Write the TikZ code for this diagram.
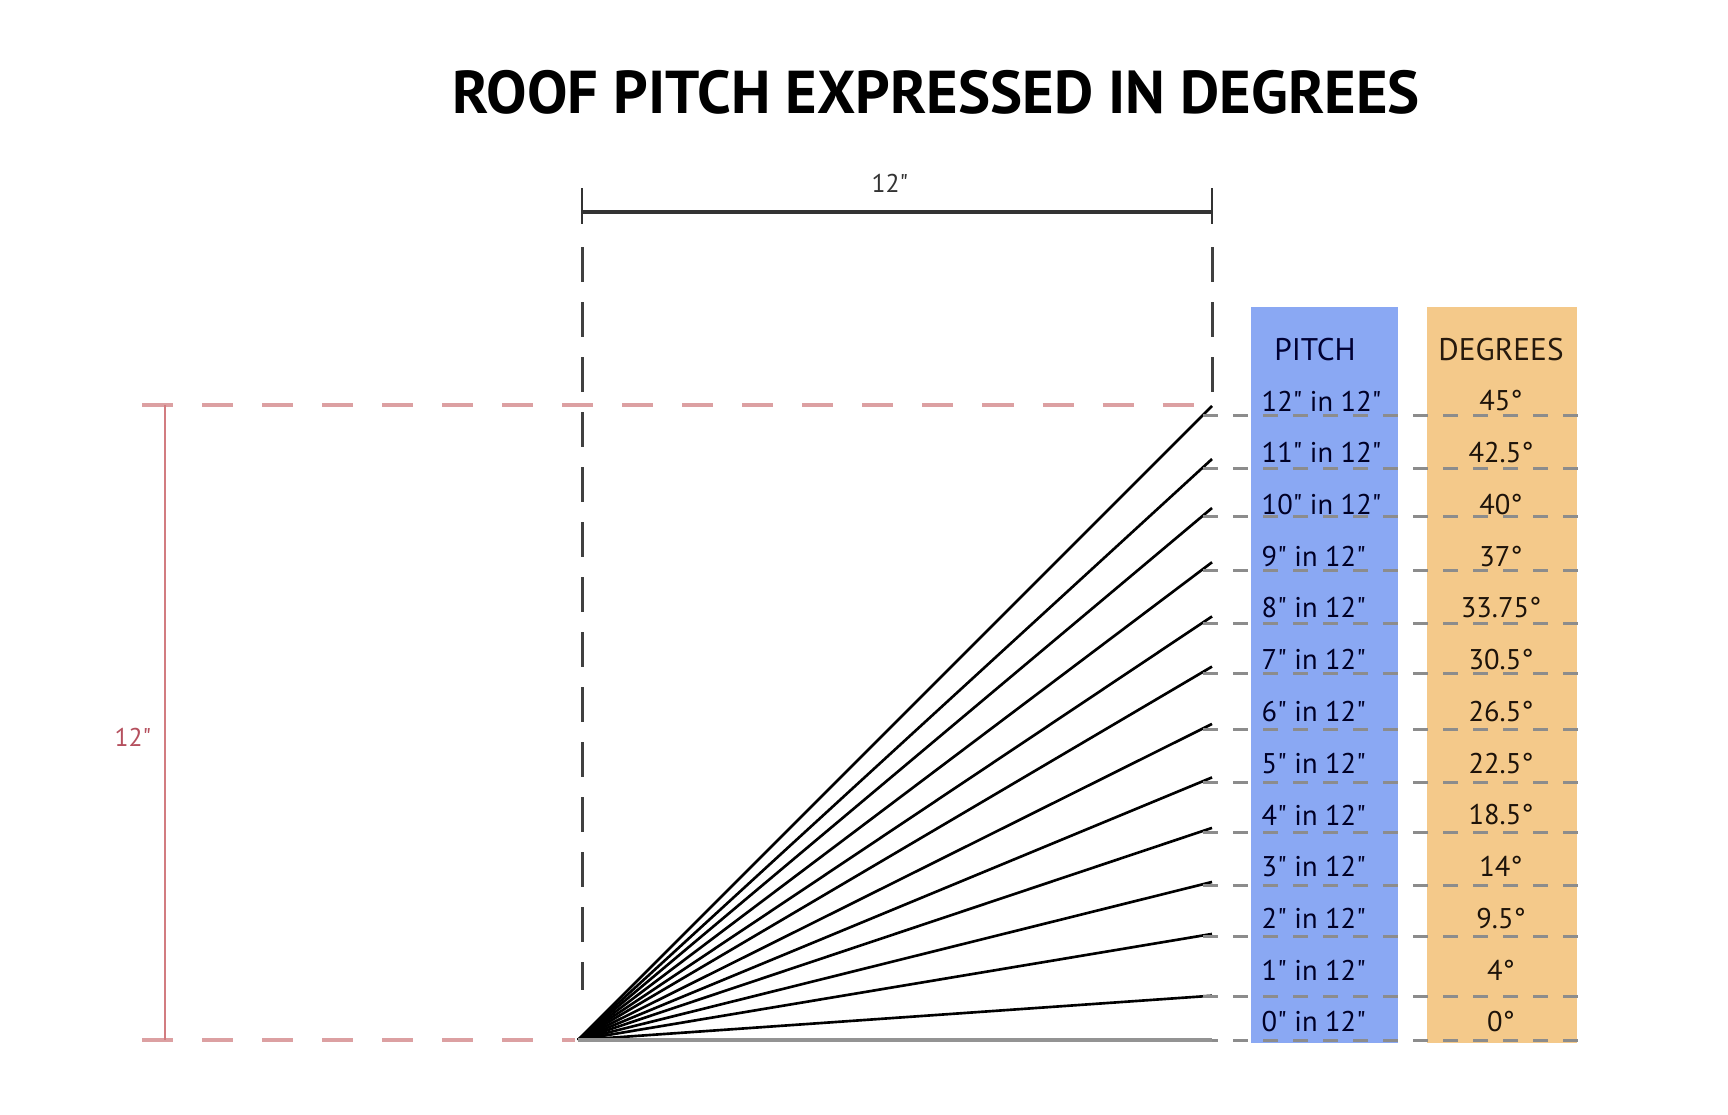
\documentclass[tikz,border=0pt]{standalone}
\usepackage{fontspec}
\setmainfont{PT Sans}[Ligatures=TeXOff]
\usepackage{tikz}
\usepackage{xcolor}
\usetikzlibrary{calc}

\definecolor{pitchblue}{HTML}{8AA8F3}
\definecolor{degorange}{HTML}{F4C98A}
\definecolor{guidered}{HTML}{DCA0A2}
\definecolor{rulered}{HTML}{D27C80}
\definecolor{textred}{HTML}{B5505E}
\definecolor{rowgray}{HTML}{8C8C8C}

\tikzset{
  pitchline/.style={line width=0.75pt, black},
  groundline/.style={line width=1.4pt, gray!85},
  rowline/.style={line width=0.85pt, rowgray, dash pattern=on 0.15cm off 0.15cm},
  guideline/.style={line width=0.85pt, black!75, dash pattern=on 0.35cm off 0.2cm},
  redguide/.style={line width=1.3pt, guidered, dash pattern=on 0.31cm off 0.29cm},
  pitchlbl/.style={anchor=west, inner sep=0pt, font=\fontsize{8.1}{9}\selectfont, text=black!85!blue},
  deglbl/.style={inner sep=0pt, font=\fontsize{8.1}{9}\selectfont, text=black!85!brown},
  headlbl/.style={inner sep=0pt, font=\fontsize{8.9}{10}\selectfont},
  dimlbl/.style={inner sep=0pt, font=\fontsize{7.3}{8}\selectfont}
}

\begin{document}
\begin{tikzpicture}[x=0.01cm, y=-0.01cm]
		\useasboundingbox (0,0) rectangle (1728,1114);
		\node[inner sep=0pt, font=\fontsize{17.2}{19}\selectfont\bfseries] (title) at (936,92) {ROOF PITCH EXPRESSED IN DEGREES};
		% columns
		\fill[pitchblue] (1251,307) rectangle (1398,1043);
		\fill[degorange] (1427,307) rectangle (1577,1043);
		\node[headlbl, text=black!80!blue] (pitchhead) at (1315,350) {PITCH};
		\node[headlbl, text=black!80!brown] (deghead) at (1501,350) {DEGREES};
		% 12" run
		\coordinate (runl) at (582,212);
		\coordinate (runr) at (1212,212);
		\draw[line width=1.1pt, black!80] (runl) -- (runr);
		\draw[line width=0.6pt, black!80] ($(runl)+(0,-24)$) -- ($(runl)+(0,12)$);
		\draw[line width=0.6pt, black!80] ($(runr)+(0,-24)$) -- ($(runr)+(0,12)$);
		\node[dimlbl, text=black!80] (run) at (890,183) {12"};
		\draw[guideline] (582,247) -- (582,990);
		\draw[guideline] (1212,247) -- (1212,400);
		% 12" rise
		\coordinate (apex) at (578,1040);
		\draw[redguide] (142,405) -- (1205,405);
		\draw[redguide] (142,1040) -- (575,1040);
		\draw[line width=0.6pt, rulered] (165,405) -- (165,1040);
		\node[dimlbl, text=textred] (rise) at (133,737) {12"};
		% pitches
		\foreach \n/\d [count=\k from 0] in {12/45, 11/42.5, 10/40, 9/37, 8/33.75, 7/30.5, 6/26.5, 5/22.5, 4/18.5, 3/14, 2/9.5, 1/4, 0/0} {
			\pgfmathsetmacro\ey{1040-634*tan(\d)}
			\pgfmathsetmacro\ry{\ey+10*\d/45}
			\pgfmathsetmacro\ty{401+51.75*\k}
			\coordinate (end\n) at (1212,\ey);
			\draw[pitchline] (apex) -- (end\n);
			\draw[rowline] (1203,\ry) -- (1578,\ry);
			\node[pitchlbl] (p\n) at (1261,\ty) {\n" in 12"};
			\node[deglbl] (d\n) at (1501,\ty) {\d°};
		}
		\draw[groundline] (apex) -- (end0);
	\end{tikzpicture}
\end{document}
